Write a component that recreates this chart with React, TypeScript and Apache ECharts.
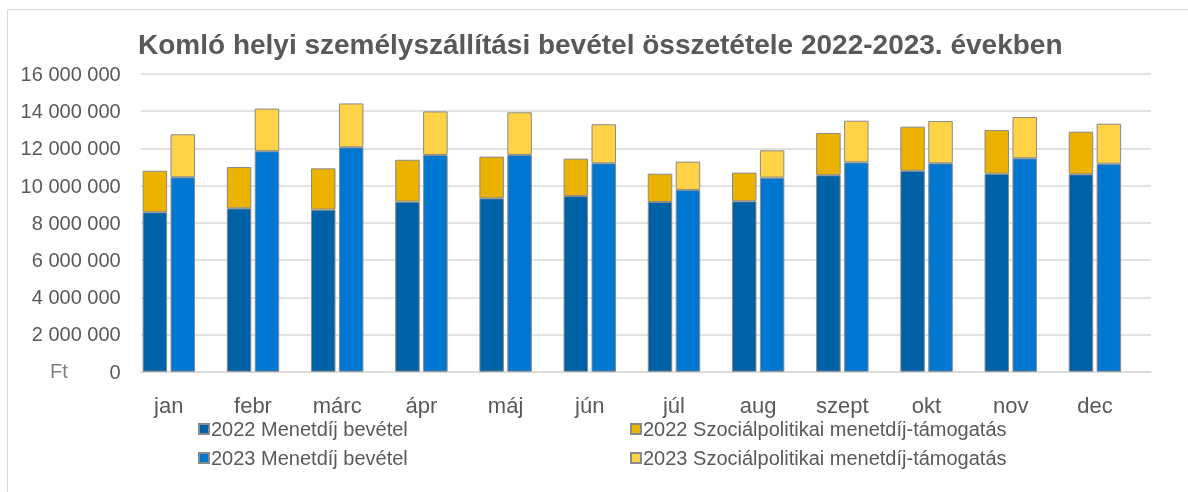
import React, { useEffect, useRef } from "react";
import * as echarts from "echarts";

const months = ["jan", "febr", "márc", "ápr", "máj", "jún", "júl", "aug", "szept", "okt", "nov", "dec"];
const menet2022 = [8570000, 8780000, 8710000, 9140000, 9320000, 9440000, 9120000, 9160000, 10560000, 10800000, 10640000, 10610000];
const total2022 = [10800000, 11000000, 10930000, 11390000, 11560000, 11450000, 10640000, 10700000, 12830000, 13170000, 12990000, 12900000];
const menet2023 = [10450000, 11850000, 12060000, 11650000, 11650000, 11200000, 9770000, 10430000, 11250000, 11200000, 11470000, 11180000];
const total2023 = [12760000, 14140000, 14420000, 13990000, 13940000, 13300000, 11290000, 11900000, 13490000, 13470000, 13690000, 13330000];
const szoc2022 = total2022.map((t, i) => t - menet2022[i]);
const szoc2023 = total2023.map((t, i) => t - menet2023[i]);

const names = [
  "2022 Menetdíj bevétel",
  "2022 Szociálpolitikai menetdíj-támogatás",
  "2023 Menetdíj bevétel",
  "2023 Szociálpolitikai menetdíj-támogatás",
];
const colors = ["#0062A6", "#EBB300", "#0078D2", "#FFD347"];
const titleText = "Komló helyi személyszállítási bevétel összetétele 2022-2023. években";

const fmt = (v: number) => String(v).replace(/\B(?=(\d{3})+(?!\d))/g, " ");
const FONT = "'Liberation Sans', Arial, sans-serif";

export default function App() {
  const ref = useRef<HTMLDivElement>(null);
  useEffect(() => {
    if (!ref.current) return;
    const chart = echarts.init(ref.current, null, { renderer: "svg" });
    const barStyle = (c: string) => ({ color: c, borderColor: "#8a8a8a", borderWidth: 1 });
    const legendBase = {
      itemWidth: 10,
      itemHeight: 10,
      itemGap: 0,
      icon: "rect",
      textStyle: { fontFamily: FONT, fontSize: 20, color: "#595959", padding: [0, 0, 0, -3] },
    };
    chart.setOption({
      animation: false,
      textStyle: { fontFamily: FONT },
      title: {
        text: titleText,
        left: 133,
        top: 25,
        textStyle: { fontFamily: FONT, fontSize: 28, fontWeight: "bold", color: "#595959" },
      },
      graphic: [
        {
          type: "rect",
          shape: { x: 7.5, y: 9.5, width: 1300, height: 600 },
          style: { fill: "none", stroke: "#d9d9d9", lineWidth: 1 },
          silent: true,
        },
        {
          type: "text",
          x: 50,
          y: 371,
          style: { text: "Ft", font: `20px ${FONT}`, fill: "#7f7f7f", verticalAlign: "middle" },
        },
      ],
      legend: [
        { ...legendBase, data: [names[0]], left: 193, top: 414 },
        { ...legendBase, data: [names[1]], left: 625, top: 414 },
        { ...legendBase, data: [names[2]], left: 193, top: 443 },
        { ...legendBase, data: [names[3]], left: 625, top: 443 },
      ],
      grid: { left: 140.7, right: 37, top: 74, bottom: 120.3, containLabel: false },
      xAxis: {
        type: "category",
        data: months,
        axisLine: { show: true, lineStyle: { color: "#d9d9d9", width: 1.5 } },
        axisTick: { show: false },
        axisLabel: {
          fontFamily: FONT,
          fontSize: 22,
          color: "#595959",
          margin: 23,
          padding: [0, 28, 0, 0],
        },
      },
      yAxis: {
        type: "value",
        min: 0,
        max: 16000000,
        interval: 2000000,
        axisLine: { show: false },
        axisTick: { show: false },
        splitLine: { lineStyle: { color: "#d9d9d9", width: 1.5 } },
        axisLabel: {
          fontFamily: FONT,
          fontSize: 20,
          color: "#595959",
          margin: 20,
          formatter: (v: number) => fmt(v),
        },
      },
      series: [
        { name: names[0], type: "bar", stack: "y2022", data: menet2022, barWidth: 24.5, barGap: "14%", itemStyle: barStyle(colors[0]) },
        { name: names[1], type: "bar", stack: "y2022", data: szoc2022, barWidth: 24.5, barGap: "14%", itemStyle: barStyle(colors[1]) },
        { name: names[2], type: "bar", stack: "y2023", data: menet2023, barWidth: 24.5, barGap: "14%", itemStyle: barStyle(colors[2]) },
        { name: names[3], type: "bar", stack: "y2023", data: szoc2023, barWidth: 24.5, barGap: "14%", itemStyle: barStyle(colors[3]) },
        { name: "empty", type: "bar", stack: "empty", data: months.map(() => null), barWidth: 24.5, barGap: "14%", itemStyle: { color: "transparent" } },
      ],
    });
    return () => chart.dispose();
  }, []);
  return <div ref={ref} style={{ position: "fixed", left: 0, top: 0, width: 1188, height: 492 }} />;
}
